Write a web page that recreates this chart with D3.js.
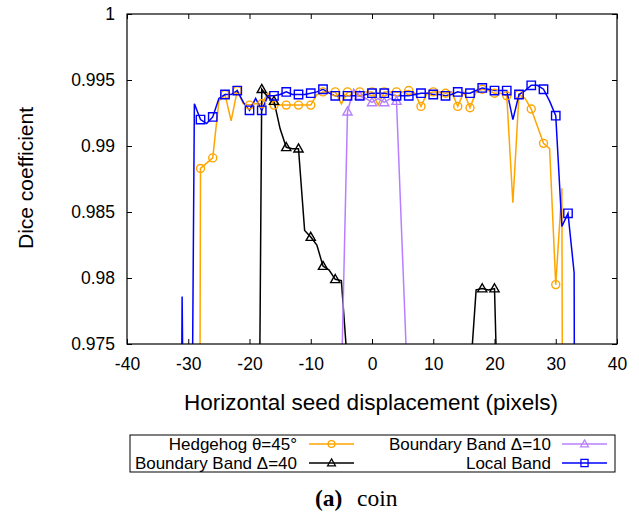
<!DOCTYPE html>
<html><head><meta charset="utf-8">
<script src="https://cdn.jsdelivr.net/npm/d3@7"></script>
<style>body{margin:0;background:#fff}svg{display:block}</style>
</head><body>
<svg id="c" width="639" height="517"></svg>
<script>
// ---- data ----
const xTicks = [-40,-30,-20,-10,0,10,20,30,40];
const xTickLabels = ["-40","-30","-20","-10","0","10","20","30","40"];
const yTicks = [0.975,0.98,0.985,0.99,0.995,1];
const yTickLabels = ["0.975","0.98","0.985","0.99","0.995","1"];

const hedgehogStart = -29;
const hedgehogValues = [0.80,0.9883,0.9887,0.9891,0.9934,0.9939,0.9919,0.9942,0.9932,0.9931,
  0.9932,0.9932,0.9940,0.9931,0.9931,0.9931,0.9931,0.9931,0.9931,0.9931,
  0.9939,0.9941,0.9941,0.9941,0.9932,0.9941,0.9941,0.9941,0.9941,0.9941,
  0.9931,0.9941,0.9941,0.9941,0.9941,0.9942,0.9940,0.9930,0.9940,0.9941,
  0.9941,0.9940,0.9941,0.9930,0.9941,0.9929,0.9941,0.9943,0.9942,0.9940,
  0.9940,0.9938,0.9857,0.9939,0.9936,0.9928,0.9915,0.9902,0.9898,0.9795,
  0.9868,0.80];

const bb40Start = -20;
const bb40Values = [0.90,0.930,0.9943,0.9937,0.9934,0.9913,0.9899,0.9898,0.9898,0.9836,
  0.9831,0.9825,0.9809,0.9806,0.9799,0.9798,0.9734,0.960,0.958,0.957,
  0.956,0.955,0.955,0.955,0.955,0.955,0.955,0.955,0.956,0.957,
  0.958,0.960,0.962,0.965,0.968,0.970,0.9724,0.9791,0.9792,0.9791,
  0.9792,0.9617,0.950];

const bb10Start = -6;
const bb10Values = [0.950,0.9719,0.9926,0.9943,0.9938,0.9936,0.9933,0.9936,0.9933,0.9936,
  0.9934,0.9815,0.9696,0.950];

const localStart = -32;
const localValues = [0.90,0.9786,0.928,0.9932,0.9920,0.9917,0.9922,0.9936,0.9939,0.9939,
  0.9942,0.9933,0.9927,0.9936,0.9927,0.9938,0.9938,0.9939,0.9941,0.9939,
  0.9939,0.9939,0.9940,0.9941,0.9943,0.9940,0.9938,0.9938,0.9938,0.9938,
  0.9938,0.9939,0.9940,0.9940,0.9940,0.9939,0.9938,0.9938,0.9938,0.9939,
  0.9940,0.9940,0.9939,0.9939,0.9938,0.9939,0.9941,0.9940,0.9940,0.9942,
  0.9944,0.9943,0.9942,0.9942,0.9942,0.9920,0.9939,0.9942,0.9946,0.9946,
  0.9943,0.9934,0.9923,0.9839,0.9849,0.9804,0.80];

const seriesNames = ["Hedgehog θ=45°","Boundary Band Δ=40","Boundary Band Δ=10","Local Band"];
const seriesColors = ["#ffa500","#000000","#b77fff","#0000ff"];
const seriesMarkers = ["circle","triangle","triangle","square"];

// ---- build ----
function pts(start, vals){ return vals.map((v,i)=>({x:start+i,y:v})); }
const series = [
  {name:seriesNames[0], color:seriesColors[0], marker:seriesMarkers[0], data:pts(hedgehogStart,hedgehogValues)},
  {name:seriesNames[1], color:seriesColors[1], marker:seriesMarkers[1], data:pts(bb40Start,bb40Values)},
  {name:seriesNames[2], color:seriesColors[2], marker:seriesMarkers[2], data:pts(bb10Start,bb10Values)},
  {name:seriesNames[3], color:seriesColors[3], marker:seriesMarkers[3], data:pts(localStart,localValues)}
];

const svg = d3.select("#c");
const L=127, R=617, T=14, B=344;
const x = d3.scaleLinear().domain([-40,40]).range([L,R]);
const y = d3.scaleLinear().domain([0.975,1]).range([B,T]);
const font = "'Liberation Sans', Arial, sans-serif";

svg.append("defs").append("clipPath").attr("id","clip")
  .append("rect").attr("x",L).attr("y",T).attr("width",R-L).attr("height",B-T);

function markerPath(type){
  if(type==="circle") return d3.symbol().type(d3.symbolCircle).size(Math.PI*4*4)();
  if(type==="square") return "M-4.2,-4.2H4.2V4.2H-4.2Z";
  return "M0,-4.8L4.6,3.3L-4.6,3.3Z";
}

// axes
const xAxisB = d3.axisBottom(x).tickValues(xTicks).tickSizeInner(-5).tickSizeOuter(0).tickPadding(14).tickFormat((d,i)=>xTickLabels[i]);
const xAxisT = d3.axisTop(x).tickValues(xTicks).tickSizeInner(-5).tickSizeOuter(0).tickFormat("");
const yAxisL = d3.axisLeft(y).tickValues(yTicks).tickSizeInner(-5).tickSizeOuter(0).tickPadding(12).tickFormat((d,i)=>yTickLabels[i]);
const yAxisR = d3.axisRight(y).tickValues(yTicks).tickSizeInner(-5).tickSizeOuter(0).tickFormat("");

function style(g){
  g.select(".domain").remove();
  g.selectAll("line").attr("stroke","#000").attr("stroke-width",1);
  g.selectAll("text").attr("font-family",font).attr("font-size",17.5).attr("fill","#000");
}
svg.append("g").attr("transform",`translate(0,${B})`).call(xAxisB).call(style);
svg.append("g").attr("transform",`translate(0,${T})`).call(xAxisT).call(style);
svg.append("g").attr("transform",`translate(${L},0)`).call(yAxisL).call(style);
svg.append("g").attr("transform",`translate(${R},0)`).call(yAxisR).call(style);

// series
const plot = svg.append("g").attr("clip-path","url(#clip)");
const line = d3.line().x(d=>x(d.x)).y(d=>y(d.y));
series.forEach(s=>{
  plot.append("path").datum(s.data).attr("d",line)
    .attr("fill","none").attr("stroke",s.color).attr("stroke-width",1.5).attr("stroke-linejoin","miter");
});
series.forEach(s=>{
  plot.selectAll(null).data(s.data.filter(d=>d.x%2===0)).enter().append("path")
    .attr("d",markerPath(s.marker))
    .attr("transform",d=>`translate(${x(d.x)},${y(d.y)})`)
    .attr("fill","none").attr("stroke",s.color).attr("stroke-width",1.4);
});

// border
svg.append("rect").attr("x",L).attr("y",T).attr("width",R-L).attr("height",B-T)
  .attr("fill","none").attr("stroke","#000").attr("stroke-width",1.2);

// axis titles
svg.append("text").attr("x",371).attr("y",410).attr("text-anchor","middle")
  .attr("font-family",font).attr("font-size",22.5).text("Horizontal seed displacement (pixels)");
svg.append("text").attr("transform","translate(33,178) rotate(-90)").attr("text-anchor","middle")
  .attr("font-family",font).attr("font-size",21).text("Dice coefficient");

// legend
const lg = svg.append("g");
lg.append("rect").attr("x",130).attr("y",435).attr("width",485).attr("height",37)
  .attr("fill","none").attr("stroke","#000").attr("stroke-width",1);
const legPos = [
  {tx:297, ly:444, x1:309, x2:354},
  {tx:297, ly:463, x1:309, x2:354},
  {tx:551, ly:444, x1:562, x2:607},
  {tx:551, ly:463, x1:562, x2:607}
];
series.forEach((s,i)=>{
  const p = legPos[i];
  lg.append("text").attr("x",p.tx).attr("y",p.ly+6).attr("text-anchor","end")
    .attr("font-family",font).attr("font-size",17).text(s.name);
  lg.append("line").attr("x1",p.x1).attr("x2",p.x2).attr("y1",p.ly).attr("y2",p.ly)
    .attr("stroke",s.color).attr("stroke-width",1.5);
  lg.append("path").attr("d",markerPath(s.marker)).attr("transform",`translate(${(p.x1+p.x2)/2},${p.ly}) scale(0.85)`)
    .attr("fill","none").attr("stroke",s.color).attr("stroke-width",1.5);
});

// caption
const serif = "'Liberation Serif','Times New Roman',serif";
svg.append("text").attr("x",315).attr("y",506).attr("font-family",serif).attr("font-size",23.5)
  .attr("font-weight","bold").text("(a)");
svg.append("text").attr("x",357).attr("y",506).attr("font-family",serif).attr("font-size",23.5)
  .text("coin");
</script>
</body></html>
